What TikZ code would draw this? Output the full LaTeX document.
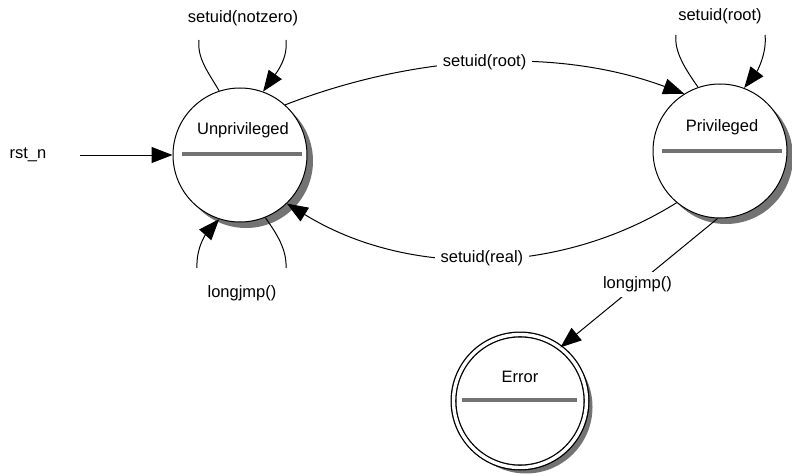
\documentclass[tikz,border=0pt]{standalone}
\usepackage{fontspec}
\setmainfont{Liberation Sans}
\usetikzlibrary{arrows.meta,shadows}
\begin{document}
\begin{tikzpicture}[x=1pt,y=1pt,
  font=\fontsize{16.5}{19}\selectfont,
  state/.style={circle,draw=black,line width=1pt,fill=white,minimum size=134pt,inner sep=0pt,
    drop shadow={shadow xshift=6pt,shadow yshift=-6pt,fill=gray!90!black,opacity=1}},
  finalstate/.style={state,double,line width=1.3pt,double distance=3.4pt,minimum size=133pt},
  divider/.style={draw=gray!90!black,line width=3.2pt},
  edge/.style={draw=black,line width=1pt},
  arr/.style={edge,-{Triangle[length=21pt,width=16pt]}},
  lbl/.style={fill=white,inner sep=6pt,text=black}
]
\useasboundingbox (0,0) rectangle (792,-476);
% states
\node[state] (U) at (240,-155) {};
\node[state] (P) at (720,-151) {};
\node[finalstate] (E) at (520,-401) {};
\node (Ut) at (243,-130) {Unprivileged};
\node (Pt) at (722,-127) {Privileged};
\node (Et) at (520,-377) {Error};
\draw[divider] (182,-154) -- (302,-154);
\draw[divider] (662,-151) -- (782,-151);
\draw[divider] (462,-400) -- (577,-400);
% reset
\node (rst) at (28,-155) {rst\_n};
\coordinate (rs) at (80,-155);
\draw[arr] (rs) -- (U.west);
% loop on U (top)
\coordinate (ua) at (199,-40);
\coordinate (ub) at (286,-40);
\node (ul) at (243,-18) {setuid(notzero)};
\draw[edge] (U.108) .. controls (208,-72) and (197,-58) .. (ua);
\draw[arr] (ub) .. controls (288,-58) and (277,-72) .. (U.70);
% loop on U (bottom)
\coordinate (uc) at (197,-268);
\coordinate (ud) at (286,-268);
\node (ull) at (242,-293) {longjmp()};
\draw[arr] (uc) .. controls (196,-248) and (206,-234) .. (U.-108);
\draw[edge] (U.-68) .. controls (277,-234) and (287,-250) .. (ud);
% loop on P
\coordinate (pa) at (676,-35);
\coordinate (pb) at (765,-35);
\node (pl) at (720,-16) {setuid(root)};
\draw[edge] (P.109) .. controls (686,-70) and (674,-52) .. (pa);
\draw[arr] (pb) .. controls (767,-52) and (758,-70) .. (P.69);
% U -> P
\draw[arr] (U.48) .. controls (414,-55) and (555,-46) .. node[lbl,pos=0.5] {setuid(root)} (P.122);
% P -> U
\draw[arr] (P.-130) .. controls (558,-277) and (406,-277) .. node[lbl,pos=0.5] {setuid(real)} (U.-46);
% P -> E
\draw[arr] (P.-92) -- node[lbl,inner sep=5pt,pos=0.51] {longjmp()} (E.53);
\end{tikzpicture}
\end{document}
